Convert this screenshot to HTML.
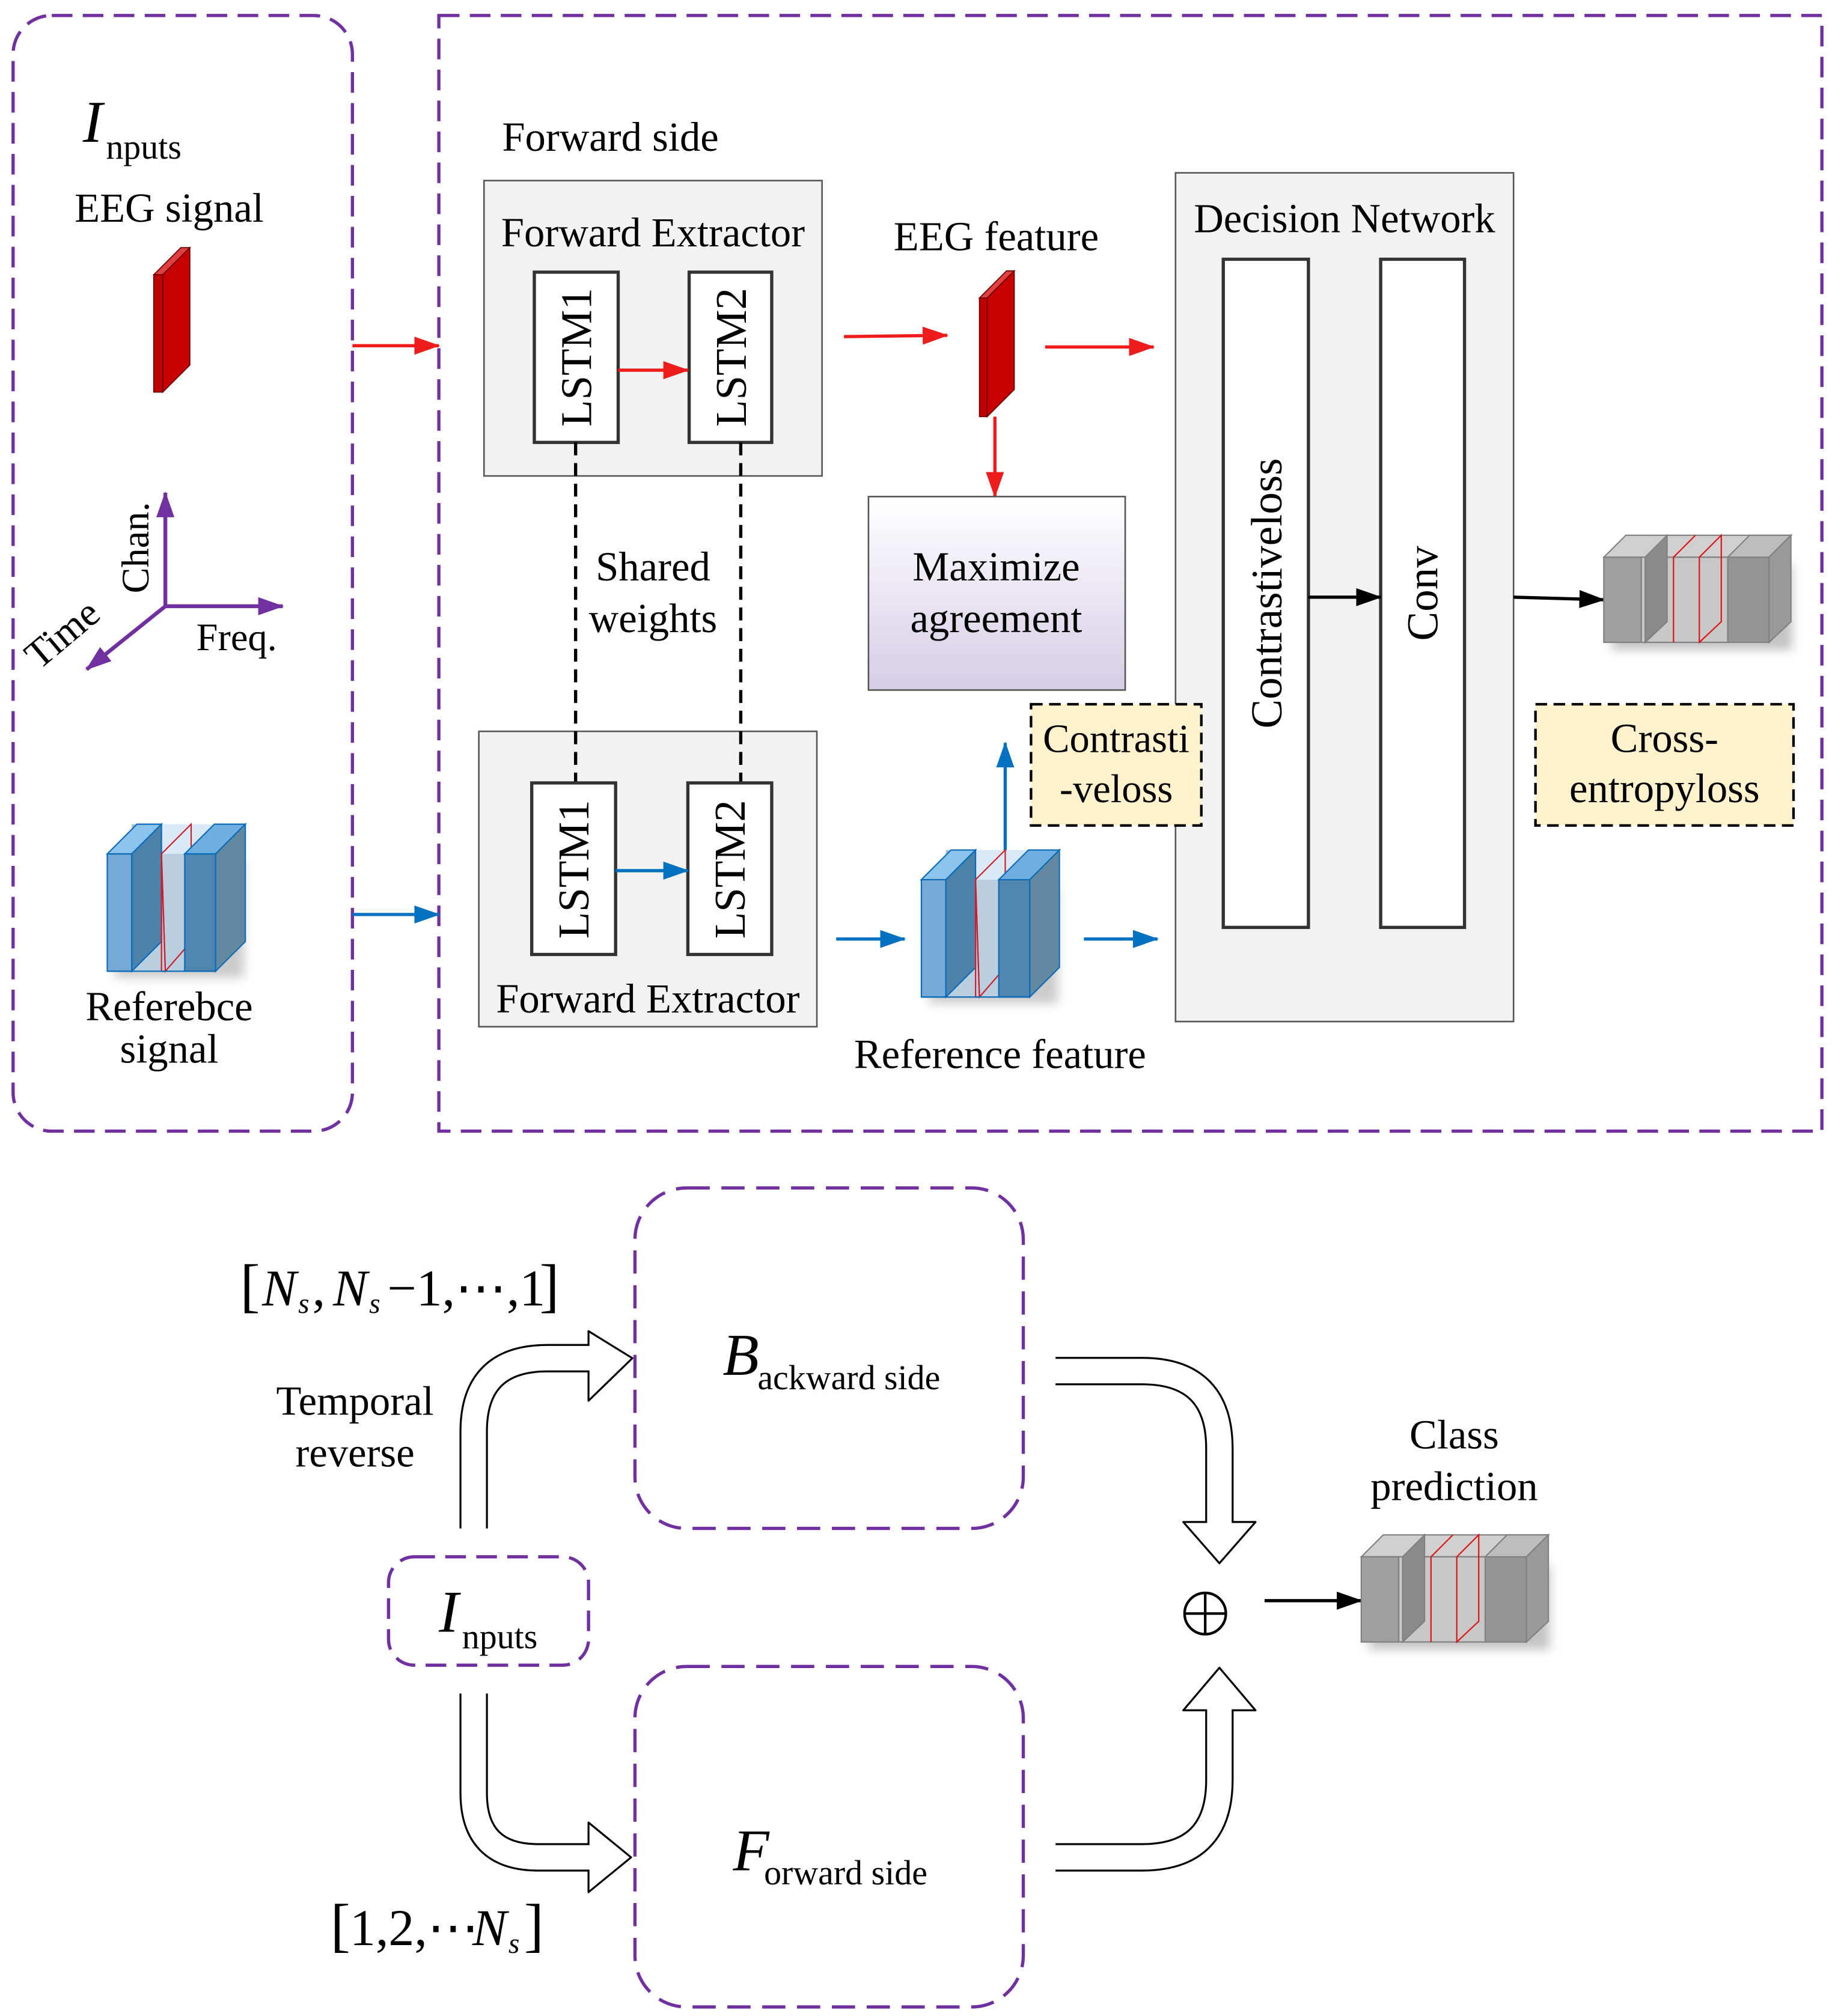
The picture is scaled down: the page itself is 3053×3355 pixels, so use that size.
<!DOCTYPE html>
<html><head><meta charset="utf-8"><style>html,body{margin:0;padding:0;background:#fff}svg{display:block}</style></head>
<body>
<svg width="3053" height="3355" viewBox="0 0 1422 1563" xmlns="http://www.w3.org/2000/svg" font-family="'Liberation Serif', serif" fill="#000">
<defs>
<marker id="ar" viewBox="0 0 20 14" refX="19" refY="7" markerWidth="20" markerHeight="14" orient="auto" markerUnits="userSpaceOnUse"><path d="M0,0 L20,7 L0,14 z" fill="#ee1c1c"/></marker>
<marker id="ab" viewBox="0 0 20 14" refX="19" refY="7" markerWidth="20" markerHeight="14" orient="auto" markerUnits="userSpaceOnUse"><path d="M0,0 L20,7 L0,14 z" fill="#0070c0"/></marker>
<marker id="ak" viewBox="0 0 20 14" refX="19" refY="7" markerWidth="20" markerHeight="14" orient="auto" markerUnits="userSpaceOnUse"><path d="M0,0 L20,7 L0,14 z" fill="#000"/></marker>
<marker id="ap" viewBox="0 0 20 14" refX="19" refY="7" markerWidth="20" markerHeight="14" orient="auto" markerUnits="userSpaceOnUse"><path d="M0,0 L20,7 L0,14 z" fill="#7030a0"/></marker>
<filter id="sh" x="-30%" y="-30%" width="160%" height="160%"><feGaussianBlur stdDeviation="4"/></filter>
<linearGradient id="lav" x1="0" y1="0" x2="0" y2="1"><stop offset="0" stop-color="#ffffff"/><stop offset="1" stop-color="#d5cde6"/></linearGradient>
<g id="blue">
<rect x="6" y="6" width="100" height="90" fill="#999" opacity="0.5" filter="url(#sh)"/>
<polygon points="0,0 23,-23 107,-23 84,0" fill="#cfe3f3" opacity="0.8"/>
<rect x="0" y="0" width="84" height="91" fill="#b9cfe0"/>
<rect x="19" y="-23" width="23" height="91" fill="#9fbdd6"/>
<rect x="0" y="0" width="19" height="91" fill="#74aad5" stroke="#0a6cb8" stroke-width="1"/>
<polygon points="0,0 23,-23 42,-23 19,0" fill="#8cc4ee" stroke="#0a6cb8" stroke-width="1"/>
<polygon points="19,0 42,-23 42,68 19,91" fill="#4d82aa" stroke="#0a6cb8" stroke-width="1"/>
<polygon points="42,0 65,-23 65,68 45,91" fill="none" stroke="#d01c2a" stroke-width="1"/>
<polygon points="42,0 42,91 45,91" fill="none" stroke="#d01c2a" stroke-width="1"/>
<rect x="60" y="0" width="24" height="91" fill="#4e86b0" stroke="#0a6cb8" stroke-width="1"/>
<polygon points="60,0 83,-23 107,-23 84,0" fill="#6eaee0" stroke="#0a6cb8" stroke-width="1"/>
<polygon points="84,0 107,-23 107,68 84,91" fill="#62899f" stroke="#0a6cb8" stroke-width="1"/>
<line x1="0" y1="91" x2="84" y2="91" stroke="#0a6cb8" stroke-width="1"/>
</g>
<g id="gray">
<rect x="6" y="6" width="140" height="66" fill="#888" opacity="0.5" filter="url(#sh)"/>
<polygon points="0,0 17,-17 145,-17 128,0" fill="#d0d0d0" stroke="#808080" stroke-width="1"/>
<rect x="0" y="0" width="128" height="66" fill="#c8c8c8" stroke="#808080" stroke-width="1"/>
<rect x="0" y="0" width="29" height="66" fill="#a0a0a0" stroke="#808080" stroke-width="1"/>
<polygon points="32,0 49,-17 49,50 32,66" fill="#8a8a8a" stroke="#808080" stroke-width="1"/>
<line x1="54" y1="0" x2="54" y2="66" stroke="#e01010"/>
<line x1="54" y1="0" x2="71" y2="-17" stroke="#e01010"/>
<polygon points="74,0 91,-17 91,50 74,66" fill="none" stroke="#e01010" stroke-width="1"/>
<rect x="96" y="0" width="32" height="66" fill="#959595" stroke="#808080" stroke-width="1"/>
<polygon points="96,0 113,-17 145,-17 128,0" fill="#bdbdbd" stroke="#808080" stroke-width="1"/>
<polygon points="128,0 145,-17 145,50 128,66" fill="#9a9a9a" stroke="#808080" stroke-width="1"/>
</g>
</defs>

<rect x="10" y="12" width="263" height="865" rx="30" fill="none" stroke="#7030a0" stroke-width="2.5" stroke-dasharray="16 8"/>
<rect x="340" y="12" width="1072" height="865" fill="none" stroke="#7030a0" stroke-width="2.5" stroke-dasharray="16 8"/>

<text x="64" y="110" font-size="46" font-style="italic">I</text>
<text x="82" y="123" font-size="27">nputs</text>
<text x="131" y="172" font-size="32" text-anchor="middle">EEG signal</text>
<polygon points="119,213 140,192 147,192 126,213" fill="#e04040" stroke="#600" stroke-width="0.8"/>
<rect x="119" y="213" width="7" height="91" fill="#c00000" stroke="#600" stroke-width="0.8"/>
<polygon points="126,213 147,192 147,283 126,304" fill="#c80000" stroke="#600" stroke-width="0.8"/>

<line x1="128" y1="470" x2="128" y2="382" stroke="#7030a0" stroke-width="3" marker-end="url(#ap)"/>
<line x1="128" y1="470" x2="219" y2="470" stroke="#7030a0" stroke-width="3" marker-end="url(#ap)"/>
<line x1="128" y1="470" x2="67" y2="519" stroke="#7030a0" stroke-width="3" marker-end="url(#ap)"/>
<text transform="translate(115,460) rotate(-90)" font-size="30">Chan.</text>
<text x="152" y="504" font-size="30">Freq.</text>
<text transform="translate(30,520) rotate(-40)" font-size="31">Time</text>

<use href="#blue" x="83" y="662"/>
<text x="131" y="791" font-size="32" text-anchor="middle">Referebce</text>
<text x="131" y="824" font-size="32" text-anchor="middle">signal</text>

<line x1="273" y1="268" x2="340" y2="268" stroke="#ee1c1c" stroke-width="2.5" marker-end="url(#ar)"/>
<line x1="273" y1="709" x2="340" y2="709" stroke="#0070c0" stroke-width="2.5" marker-end="url(#ab)"/>

<text x="389" y="117" font-size="32">Forward side</text>
<rect x="375" y="140" width="262" height="229" fill="#f2f2f2" stroke="#555" stroke-width="1.2"/>
<text x="506" y="191" font-size="32" text-anchor="middle">Forward Extractor</text>
<rect x="414" y="211" width="65" height="132" fill="#fff" stroke="#333" stroke-width="2.5"/>
<rect x="534" y="211" width="64" height="132" fill="#fff" stroke="#333" stroke-width="2.5"/>
<text transform="translate(458,277) rotate(-90)" font-size="34" text-anchor="middle">LSTM1</text>
<text transform="translate(578,277) rotate(-90)" font-size="34" text-anchor="middle">LSTM2</text>
<line x1="479" y1="287" x2="533" y2="287" stroke="#ee1c1c" stroke-width="2.5" marker-end="url(#ar)"/>

<line x1="446" y1="343" x2="446" y2="607" stroke="#000" stroke-width="2.5" stroke-dasharray="10 6"/>
<line x1="574" y1="343" x2="574" y2="607" stroke="#000" stroke-width="2.5" stroke-dasharray="10 6"/>
<rect x="452" y="418" width="110" height="80" fill="#fff"/>
<text x="506" y="450" font-size="32" text-anchor="middle">Shared</text>
<text x="506" y="490" font-size="32" text-anchor="middle">weights</text>

<rect x="371" y="567" width="262" height="229" fill="#f2f2f2" stroke="#555" stroke-width="1.2"/>
<line x1="446" y1="567" x2="446" y2="607" stroke="#000" stroke-width="2.5" stroke-dasharray="10 6"/>
<line x1="574" y1="567" x2="574" y2="607" stroke="#000" stroke-width="2.5" stroke-dasharray="10 6"/>
<rect x="412" y="607" width="65" height="133" fill="#fff" stroke="#333" stroke-width="2.5"/>
<rect x="533" y="607" width="65" height="133" fill="#fff" stroke="#333" stroke-width="2.5"/>
<text transform="translate(456,674) rotate(-90)" font-size="34" text-anchor="middle">LSTM1</text>
<text transform="translate(577,674) rotate(-90)" font-size="34" text-anchor="middle">LSTM2</text>
<line x1="477" y1="675" x2="533" y2="675" stroke="#0070c0" stroke-width="2.5" marker-end="url(#ab)"/>
<text x="502" y="785" font-size="32" text-anchor="middle">Forward Extractor</text>

<text x="772" y="194" font-size="32" text-anchor="middle">EEG feature</text>
<line x1="654" y1="261" x2="734" y2="260" stroke="#ee1c1c" stroke-width="2.5" marker-end="url(#ar)"/>
<polygon points="759,231 780,210 786,210 765,231" fill="#e04040" stroke="#600" stroke-width="0.8"/>
<rect x="759" y="231" width="6" height="92" fill="#c00000" stroke="#600" stroke-width="0.8"/>
<polygon points="765,231 786,210 786,302 765,323" fill="#c80000" stroke="#600" stroke-width="0.8"/>
<line x1="771" y1="323" x2="771" y2="385" stroke="#ee1c1c" stroke-width="2.5" marker-end="url(#ar)"/>
<line x1="810" y1="269" x2="894" y2="269" stroke="#ee1c1c" stroke-width="2.5" marker-end="url(#ar)"/>

<rect x="673" y="385" width="199" height="150" fill="url(#lav)" stroke="#555" stroke-width="1.2"/>
<text x="772" y="450" font-size="32" text-anchor="middle">Maximize</text>
<text x="772" y="490" font-size="32" text-anchor="middle">agreement</text>

<line x1="779" y1="660" x2="779" y2="576" stroke="#0070c0" stroke-width="2.5" marker-end="url(#ab)"/>

<line x1="648" y1="728" x2="701" y2="728" stroke="#0070c0" stroke-width="2.5" marker-end="url(#ab)"/>
<use href="#blue" x="714" y="682"/>
<line x1="840" y1="728" x2="897" y2="728" stroke="#0070c0" stroke-width="2.5" marker-end="url(#ab)"/>
<text x="775" y="828" font-size="32" text-anchor="middle">Reference feature</text>

<rect x="911" y="134" width="262" height="658" fill="#f2f2f2" stroke="#555" stroke-width="1.2"/>
<text x="1042" y="180" font-size="32" text-anchor="middle">Decision Network</text>
<rect x="948" y="201" width="66" height="518" fill="#fff" stroke="#333" stroke-width="2.5"/>
<rect x="1070" y="201" width="65" height="518" fill="#fff" stroke="#333" stroke-width="2.5"/>
<text transform="translate(993,460) rotate(-90)" font-size="34" text-anchor="middle">Contrastiveloss</text>
<text transform="translate(1114,460) rotate(-90)" font-size="34" text-anchor="middle">Conv</text>
<line x1="1014" y1="463" x2="1070" y2="463" stroke="#000" stroke-width="2.5" marker-end="url(#ak)"/>
<line x1="1173" y1="463" x2="1243" y2="465" stroke="#000" stroke-width="2.5" marker-end="url(#ak)"/>

<rect x="799" y="546" width="132" height="94" fill="#fff2cc" stroke="#000" stroke-width="2" stroke-dasharray="9 5"/>
<text x="865" y="583" font-size="31" text-anchor="middle">Contrasti</text>
<text x="865" y="622" font-size="31" text-anchor="middle">-veloss</text>

<use href="#gray" x="1243" y="432"/>
<rect x="1190" y="546" width="200" height="94" fill="#fff2cc" stroke="#000" stroke-width="2" stroke-dasharray="9 5"/>
<text x="1290" y="583" font-size="32" text-anchor="middle">Cross-</text>
<text x="1290" y="622" font-size="32" text-anchor="middle">entropyloss</text>

<text x="186" y="1012" font-size="46">[</text>
<text x="203" y="1012" font-size="40" font-style="italic">N</text>
<text x="231" y="1018" font-size="22" font-style="italic">s</text>
<text x="242" y="1012" font-size="40">,</text>
<text x="258" y="1012" font-size="40" font-style="italic">N</text>
<text x="286" y="1018" font-size="22" font-style="italic">s</text>
<text x="300" y="1012" font-size="40">−1,⋯,1</text>
<text x="418" y="1012" font-size="46">]</text>

<rect x="492" y="921" width="301" height="264" rx="40" fill="none" stroke="#7030a0" stroke-width="2.5" stroke-dasharray="18 9"/>
<text x="560" y="1066" font-size="46" font-style="italic">B</text>
<text x="587" y="1077" font-size="27">ackward side</text>
<rect x="492" y="1292" width="301" height="264" rx="40" fill="none" stroke="#7030a0" stroke-width="2.5" stroke-dasharray="18 9"/>
<text x="568" y="1450" font-size="46" font-style="italic">F</text>
<text x="592" y="1461" font-size="27">orward side</text>
<rect x="301" y="1207" width="155" height="84" rx="20" fill="none" stroke="#7030a0" stroke-width="2.5" stroke-dasharray="16 8"/>
<text x="340" y="1265" font-size="46" font-style="italic">I</text>
<text x="358" y="1278" font-size="27">nputs</text>

<text x="275" y="1097" font-size="32" text-anchor="middle">Temporal</text>
<text x="275" y="1137" font-size="32" text-anchor="middle">reverse</text>

<g fill="none" stroke-linejoin="round">
<path d="M367,1185 L367,1110 Q367,1053 424,1053 L458,1053" stroke="#000" stroke-width="22"/>
<polygon points="456,1032 490,1053 456,1086" fill="#fff" stroke="#000" stroke-width="1.5"/>
<path d="M367,1186 L367,1110 Q367,1053 424,1053 L460,1053" stroke="#fff" stroke-width="19"/>

<path d="M367,1313 L367,1390 Q367,1440 417,1440 L458,1440" stroke="#000" stroke-width="22"/>
<polygon points="456,1413 489,1440 456,1467" fill="#fff" stroke="#000" stroke-width="1.5"/>
<path d="M367,1312 L367,1390 Q367,1440 417,1440 L460,1440" stroke="#fff" stroke-width="19"/>

<path d="M818,1063 L885,1063 Q945,1063 945,1123 L945,1182" stroke="#000" stroke-width="22"/>
<polygon points="917,1180 973,1180 945,1212" fill="#fff" stroke="#000" stroke-width="1.5"/>
<path d="M817,1063 L885,1063 Q945,1063 945,1123 L945,1184" stroke="#fff" stroke-width="19"/>

<path d="M818,1440 L885,1440 Q945,1440 945,1380 L945,1325" stroke="#000" stroke-width="22"/>
<polygon points="917,1326 973,1326 945,1293" fill="#fff" stroke="#000" stroke-width="1.5"/>
<path d="M817,1440 L885,1440 Q945,1440 945,1380 L945,1323" stroke="#fff" stroke-width="19"/>
</g>

<circle cx="934" cy="1251" r="16" fill="none" stroke="#000" stroke-width="2"/>
<line x1="918" y1="1251" x2="950" y2="1251" stroke="#000" stroke-width="2"/>
<line x1="934" y1="1235" x2="934" y2="1267" stroke="#000" stroke-width="2"/>
<line x1="980" y1="1241" x2="1055" y2="1241" stroke="#000" stroke-width="2.5" marker-end="url(#ak)"/>
<use href="#gray" x="1055" y="1207"/>
<text x="1127" y="1123" font-size="32" text-anchor="middle">Class</text>
<text x="1127" y="1163" font-size="32" text-anchor="middle">prediction</text>

<text x="256" y="1508" font-size="46">[</text>
<text x="271" y="1508" font-size="40">1,2,⋯</text>
<text x="366" y="1508" font-size="40" font-style="italic">N</text>
<text x="394" y="1514" font-size="22" font-style="italic">s</text>
<text x="406" y="1508" font-size="46">]</text>
</svg>
</body></html>
